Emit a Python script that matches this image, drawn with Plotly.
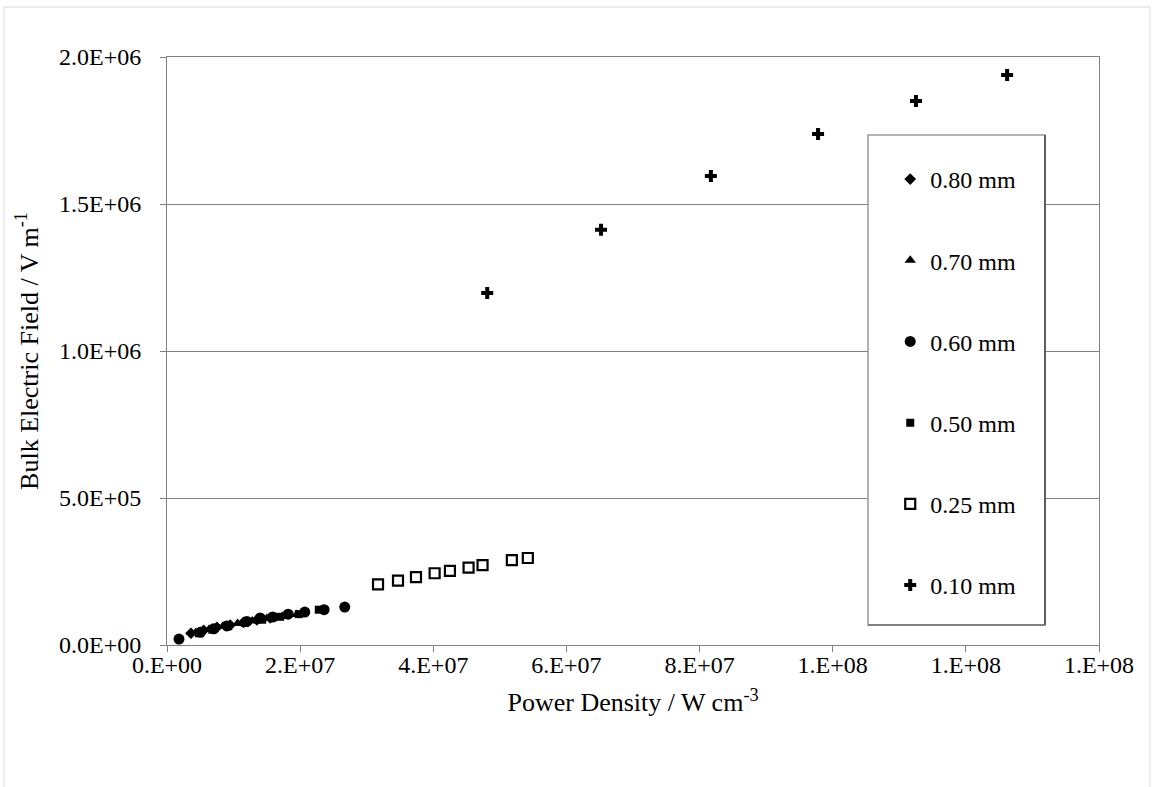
import plotly.graph_objects as go

# ---- data ----
x_080 = [3.6e6, 5.5e6, 7.5e6, 9.5e6, 11.5e6, 13.5e6, 15.5e6]
y_080 = [4.0e4, 5.0e4, 6.0e4, 6.8e4, 7.7e4, 8.5e4, 9.2e4]

x_070 = [4.3e6, 6.3e6, 8.4e6, 10.6e6, 12.8e6, 15.0e6, 17.3e6, 19.5e6]
y_070 = [4.2e4, 5.3e4, 6.4e4, 7.3e4, 8.2e4, 9.0e4, 9.7e4, 10.4e4]

x_060 = [1.8e6, 5.0e6, 7.0e6, 9.0e6, 12.0e6, 14.0e6, 15.9e6, 18.2e6, 20.7e6, 23.6e6, 26.7e6]
y_060 = [2.0e4, 4.3e4, 5.5e4, 6.5e4, 8.0e4, 9.2e4, 9.5e4, 10.5e4, 11.2e4, 12.0e4, 12.9e4]

x_050 = [4.8e6, 6.8e6, 9.2e6, 11.7e6, 14.3e6, 17.0e6, 19.8e6, 22.8e6]
y_050 = [4.0e4, 5.2e4, 6.4e4, 7.5e4, 8.6e4, 9.6e4, 10.5e4, 12.0e4]

x_025 = [31.7e6, 34.7e6, 37.4e6, 40.2e6, 42.5e6, 45.3e6, 47.4e6, 51.8e6, 54.2e6]
y_025 = [2.065e5, 2.19e5, 2.31e5, 2.44e5, 2.52e5, 2.63e5, 2.72e5, 2.89e5, 2.96e5]

x_010 = [48.1e6, 65.2e6, 81.7e6, 97.8e6, 112.5e6, 126.2e6]
y_010 = [1.197e6, 1.412e6, 1.595e6, 1.738e6, 1.850e6, 1.939e6]

series_names = ["0.80 mm", "0.70 mm", "0.60 mm", "0.50 mm", "0.25 mm", "0.10 mm"]

x_tickvals = [0, 2e7, 4e7, 6e7, 8e7, 1e8, 1.2e8, 1.4e8]
x_ticktext = ["0.E+00", "2.E+07", "4.E+07", "6.E+07", "8.E+07", "1.E+08", "1.E+08", "1.E+08"]
y_tickvals = [0, 5e5, 1e6, 1.5e6, 2e6]
y_ticktext = ["0.0E+00", "5.0E+05", "1.0E+06", "1.5E+06", "2.0E+06"]

FONT = "Liberation Serif, Times New Roman, serif"

styles = [
    dict(symbol="diamond", size=9, color="black"),
    dict(symbol="triangle-up", size=10, color="black"),
    dict(symbol="circle", size=11, color="black"),
    dict(symbol="square", size=8, color="black"),
    dict(symbol="square-open", size=10, color="black", line=dict(width=2.2, color="black")),
    dict(symbol="cross", size=10, color="black", line=dict(width=0)),
]
xs = [x_080, x_070, x_060, x_050, x_025, x_010]
ys = [y_080, y_070, y_060, y_050, y_025, y_010]

fig = go.Figure()
for name, x, y, st in zip(series_names, xs, ys, styles):
    fig.add_trace(go.Scatter(x=x, y=y, mode="markers", name=name, legendgroup=name,
                             marker=st))

fig.update_layout(
    width=1156, height=787,
    margin=dict(l=167, r=57, t=57, b=142),
    paper_bgcolor="white", plot_bgcolor="white",
    font=dict(family=FONT, size=24, color="black"),
    showlegend=True,
    legend=dict(
        x=0.776, y=0.83, xanchor="left", yanchor="top",
        bgcolor="rgba(0,0,0,0)", borderwidth=0,
        traceorder="grouped", tracegroupgap=47,
        font=dict(family=FONT, size=24, color="black"),
        itemwidth=30,
    ),
    xaxis=dict(
        range=[0, 1.4e8], tickvals=x_tickvals, ticktext=x_ticktext,
        showline=True, linecolor="#808080", linewidth=1, mirror=True,
        ticks="outside", ticklen=6, tickcolor="#808080",
        showgrid=False, zeroline=False,
        tickfont=dict(family=FONT, size=24),
        ticklabelstandoff=-8,
        title=dict(text="Power Density / W cm<sup>-3</sup>", standoff=16,
                   font=dict(family=FONT, size=26)),
        automargin=False,
    ),
    yaxis=dict(
        range=[0, 2e6], tickvals=y_tickvals, ticktext=y_ticktext,
        showline=True, linecolor="#808080", linewidth=1, mirror=True,
        ticks="outside", ticklen=6, tickcolor="#808080",
        showgrid=True, gridcolor="#808080", gridwidth=1, zeroline=False,
        tickfont=dict(family=FONT, size=24),
        ticklabelstandoff=14,
        title=dict(text="Bulk Electric Field / V m<sup>-1</sup>", standoff=12,
                   font=dict(family=FONT, size=26)),
        automargin=False,
    ),
)

# outer chart border
fig.add_shape(type="rect", xref="paper", yref="paper",
              x0=-0.175, x1=1.0547, y0=-0.25, y1=1.085,
              line=dict(color="#d9d9d9", width=1), fillcolor="rgba(0,0,0,0)", layer="below")
# legend box (gray left/top, darker right/bottom)
lx0, lx1 = (868 - 167) / 932, (1045 - 167) / 932
ly0, ly1 = (645 - 625) / 588, (645 - 135) / 588
fig.add_shape(type="rect", xref="paper", yref="paper",
              x0=lx0, x1=lx1, y0=ly0, y1=ly1,
              line=dict(color="#9a9a9a", width=1.5), fillcolor="white", layer="above")
fig.add_shape(type="line", xref="paper", yref="paper", x0=lx1, x1=lx1, y0=ly0, y1=ly1,
              line=dict(color="#404040", width=1.5), layer="above")
fig.add_shape(type="line", xref="paper", yref="paper", x0=lx0, x1=lx1, y0=ly0, y1=ly0,
              line=dict(color="#707070", width=1.5), layer="above")

fig.write_html("out.html")
